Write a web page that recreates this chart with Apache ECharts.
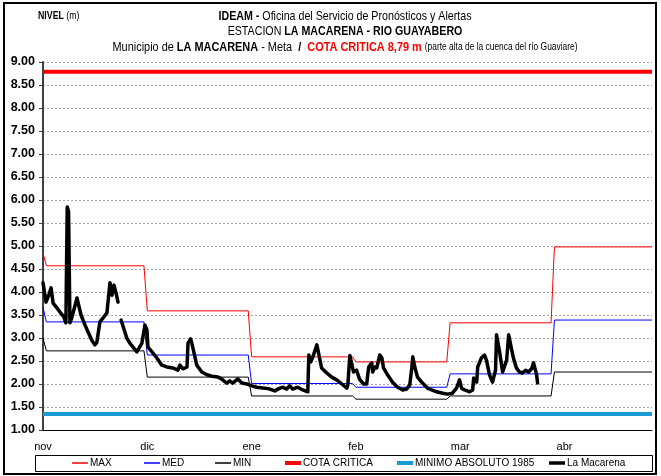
<!DOCTYPE html>
<html><head><meta charset="utf-8">
<script src="https://cdn.jsdelivr.net/npm/echarts@6/dist/echarts.min.js"></script>
<style>html,body{margin:0;padding:0;background:#fff}#c{width:661px;height:476px}</style>
</head><body><div id="c"></div>
<script>
// ---- data ----
const monthLabels = ['nov', 'dic', 'ene', 'feb', 'mar', 'abr'];
const monthStartDays = [1, 31, 62, 93, 121, 152];
const lastDay = 181;

const maxStart = 4.85;
const maxMonthly = [4.57, 3.59, 2.59, 2.48, 3.33, 4.98];
const medStart = 3.67;
const medMonthly = [3.35, 2.63, 2.01, 1.93, 2.22, 3.39];
const minStart = 3.0;
const minMonthly = [2.72, 2.15, 1.74, 1.67, 1.74, 2.26];

const cotaCritica = 8.79;
const minimoAbsoluto = 1.35;

const macDays = [
  0.0, 0.9, 1.8, 2.4, 3.0, 4.2, 5.3, 6.2, 6.8, 7.2, 7.6, 8.0, 8.6, 9.5, 10.1, 11.3, 12.5, 13.4, 14.5, 15.4,
  16.0, 16.9, 17.8, 19.0, 19.9, 20.5, 21.1, 21.7, 22.3, 22.75,
  23.2, 24.9, 25.8, 27.9, 29.4, 30.3, 30.9, 31.2, 32.4, 33.8, 35.3, 36.8, 38.6, 40.1, 40.7, 41.6, 42.8, 43.1,
  43.9, 44.5, 45.7, 47.2, 48.7, 50.2, 52.0, 53.4, 54.6, 55.5, 56.4, 57.9, 59.1, 60.6, 62.1, 63.5, 65.9, 67.4,
  68.9, 70.4, 71.3, 72.4, 73.3, 74.2, 75.7, 77.2, 78.7, 79.0, 79.6, 80.2, 81.4, 81.9, 82.8, 84.3, 85.8, 87.3,
  88.8, 90.3, 90.6, 91.2, 91.7, 92.3, 93.2, 94.1, 95.3, 96.2, 96.8, 97.7, 98.0, 98.6, 99.2, 100.1, 100.7,
  101.2, 102.4, 103.9, 105.4, 106.9, 108.1, 109.0, 109.6, 109.9, 110.5, 111.3, 112.8, 114.3, 115.5, 117.0,
  118.8, 120.2, 121.7, 122.9, 123.8, 124.4, 125.3, 126.8, 127.7, 128.0, 128.9, 129.2, 130.3, 131.2, 131.8,
  132.7, 133.6, 134.5, 134.8, 135.7, 136.6, 137.8, 138.4, 139.3, 139.8, 140.7, 141.6, 142.5, 143.4, 144.3,
  145.2, 145.8, 146.7, 147.0
];
const macLevels = [
  4.20, 3.78, 3.95, 4.09, 3.76, 3.65, 3.54, 3.46, 3.33, 5.85, 5.75, 3.33, 3.45, 3.70, 3.87, 3.50, 3.28, 3.13, 2.95, 2.85,
  2.90, 3.35, 3.43, 3.55, 4.20, 3.93, 4.15, 3.98, 3.78, '-',
  3.39, 3.00, 2.89, 2.70, 2.89, 3.28, 3.17, 2.80, 2.70, 2.57, 2.41, 2.37, 2.35, 2.30, 2.41, 2.33, 2.37, 2.89,
  2.98, 2.80, 2.41, 2.26, 2.20, 2.17, 2.15, 2.09, 2.02, 2.07, 2.02, 2.11, 2.02, 2.00, 1.96, 1.93, 1.91, 1.89,
  1.85, 1.91, 1.93, 1.89, 1.96, 1.89, 1.93, 1.87, 1.83, 2.63, 2.48, 2.59, 2.85, 2.67, 2.35, 2.24, 2.15, 2.09,
  2.00, 1.91, 1.98, 2.62, 2.46, 2.26, 2.30, 2.10, 2.00, 2.00, 2.37, 2.46, 2.26, 2.37, 2.35, 2.63, 2.57,
  2.35, 2.20, 2.04, 1.93, 1.87, 1.89, 1.98, 2.35, 2.59, 2.37, 2.15, 2.02, 1.91, 1.87, 1.83,
  1.80, 1.78, 1.80, 1.91, 2.09, 1.91, 1.87, 1.83, 1.87, 2.13, 2.04, 2.37, 2.57, 2.63, 2.52,
  2.20, 2.04, 2.30, 3.07, 2.70, 2.26, 2.52, 3.07, 2.74, 2.57, 2.35, 2.26, 2.24, 2.30, 2.26,
  2.33, 2.46, 2.20, 2.02
];

const seriesNames = ['MAX', 'MED', 'MIN', 'COTA CRITICA', 'MINIMO ABSOLUTO 1985', 'La Macarena'];

// ---- build ----
function stepData(start, monthly) {
  const pts = [[0, start]];
  monthly.forEach((v, i) => {
    const s = monthStartDays[i];
    const e = i < monthly.length - 1 ? monthStartDays[i + 1] - 1 : lastDay;
    pts.push([s, v], [e, v]);
  });
  return pts;
}
const macData = macDays.map((d, i) => [d, macLevels[i]]);

const SANS = '"Liberation Sans", Arial, sans-serif';
const legendLeft = [72, 144, 215, 285, 397, 549];
const legendIcon = [
  'path://M0,0H16V1.5H0Z', 'path://M0,0H16V1.5H0Z', 'path://M0,0H16V1.5H0Z',
  'path://M0,0H16V4H0Z', 'path://M0,0H16V4H0Z', 'path://M0,0H16V3.5H0Z'
];
const legends = seriesNames.map((n, i) => ({
  left: legendLeft[i], top: 458, itemWidth: 16, itemHeight: 8, padding: 0,
  icon: legendIcon[i], itemStyle: { borderWidth: 0 },
  textStyle: { fontFamily: SANS, fontSize: 10, color: '#000', padding: [0, 0, 0, -3] },
  data: [n]
}));

const chart = echarts.init(document.getElementById('c'), null, { renderer: 'canvas' });
chart.setOption({
  animation: false,
  backgroundColor: '#fff',
  grid: { left: 43, right: 9, top: 62, bottom: 46 },
  xAxis: {
    type: 'value', min: 0, max: lastDay, interval: 31,
    axisLine: { show: true, lineStyle: { color: '#000', width: 1 } },
    axisTick: { show: false },
    splitLine: { show: false },
    axisLabel: {
      showMaxLabel: false, margin: 11, color: '#000', fontFamily: SANS, fontSize: 11,
      formatter: v => (v % 31 === 0 ? monthLabels[v / 31] || '' : '')
    }
  },
  yAxis: {
    type: 'value', min: 1, max: 9, interval: 0.5,
    axisLine: { show: true, lineStyle: { color: '#404040', width: 2 } },
    axisTick: { show: true, inside: false, length: 4, lineStyle: { color: '#404040' } },
    splitLine: { show: true, lineStyle: { color: '#a6a6a6', type: [2, 2], width: 1 } },
    axisLabel: {
      margin: 8, color: '#000', fontWeight: 'bold', fontFamily: SANS, fontSize: 12.5,
      formatter: v => v.toFixed(2)
    }
  },
  legend: legends,
  graphic: [
    { type: 'rect', shape: { x: 4, y: 3, width: 652, height: 471 }, style: { fill: 'none', stroke: '#000', lineWidth: 2 }, silent: true },
    { type: 'rect', shape: { x: 35.5, y: 455.5, width: 617, height: 16 }, style: { fill: 'none', stroke: '#000', lineWidth: 1 }, silent: true },
    { type: 'text', x: 38, y: 16, scaleX: 0.8, style: { text: '{b|NIVEL} (m)', font: '11px ' + SANS, fill: '#000', verticalAlign: 'middle',
        rich: { b: { fontWeight: 'bold', fontFamily: SANS, fontSize: 11 } } } },
    { type: 'text', x: 345, y: 16, scaleX: 0.82, style: { text: '{b|IDEAM -} Oficina del Servicio de Pronósticos y Alertas', font: '13px ' + SANS, fill: '#000', align: 'center', verticalAlign: 'middle',
        rich: { b: { fontWeight: 'bold', fontFamily: SANS, fontSize: 13 } } } },
    { type: 'text', x: 345, y: 31, scaleX: 0.82, style: { text: 'ESTACION {b|LA MACARENA - RIO GUAYABERO}', font: '13px ' + SANS, fill: '#000', align: 'center', verticalAlign: 'middle',
        rich: { b: { fontWeight: 'bold', fontFamily: SANS, fontSize: 13 } } } },
    { type: 'text', x: 345, y: 47, scaleX: 0.84, style: { text: 'Municipio de {b|LA MACARENA} - Meta  {b|/}  {r|COTA CRITICA 8,79 m} {s|(parte alta de la cuenca del río Guaviare)}', font: '13px ' + SANS, fill: '#000', align: 'center', verticalAlign: 'middle',
        rich: { b: { fontWeight: 'bold', fontFamily: SANS, fontSize: 13 }, r: { fontWeight: 'bold', fontFamily: SANS, fontSize: 13, fill: '#ff0000', color: '#ff0000' }, s: { fontFamily: SANS, fontSize: 10 } } } }
  ],
  series: [
    { name: 'MAX', type: 'line', data: stepData(maxStart, maxMonthly), showSymbol: false, symbol: 'none', lineStyle: { color: '#ff0000', width: 1 }, itemStyle: { color: '#ff0000' }, z: 3 },
    { name: 'MED', type: 'line', data: stepData(medStart, medMonthly), showSymbol: false, symbol: 'none', lineStyle: { color: '#0000ff', width: 1 }, itemStyle: { color: '#0000ff' }, z: 3 },
    { name: 'MIN', type: 'line', data: stepData(minStart, minMonthly), showSymbol: false, symbol: 'none', lineStyle: { color: '#000000', width: 1 }, itemStyle: { color: '#000000' }, z: 3 },
    { name: 'COTA CRITICA', type: 'line', data: [[0, cotaCritica], [lastDay, cotaCritica]], showSymbol: false, symbol: 'none', lineStyle: { color: '#ff0000', width: 4 }, itemStyle: { color: '#ff0000' }, z: 3 },
    { name: 'MINIMO ABSOLUTO 1985', type: 'line', data: [[0, minimoAbsoluto], [lastDay, minimoAbsoluto]], showSymbol: false, symbol: 'none', lineStyle: { color: '#1a9bd7', width: 4 }, itemStyle: { color: '#1a9bd7' }, z: 3 },
    { name: 'La Macarena', type: 'line', data: macData, connectNulls: false, showSymbol: false, symbol: 'none', lineStyle: { color: '#000000', width: 3.5, join: 'round', cap: 'round' }, itemStyle: { color: '#000000' }, z: 4 }
  ]
});
</script>
</body></html>
